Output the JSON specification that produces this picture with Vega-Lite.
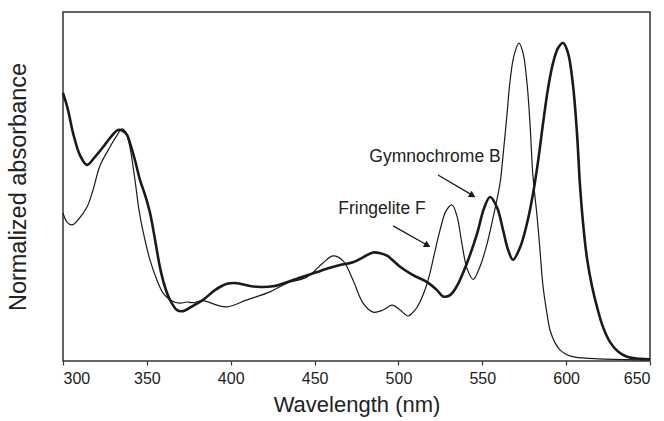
{
  "$schema": "https://vega.github.io/schema/vega-lite/v6.json",
  "autosize": "none",
  "width": 587,
  "height": 349,
  "padding": {"left": 63, "top": 12, "right": 14, "bottom": 60},
  "background": "white",
  "config": {
    "view": {"stroke": "#333333", "strokeWidth": 1.5},
    "font": "Liberation Sans",
    "axis": {"grid": false, "domain": false}
  },
  "datasets": {
    "spectra": [
      {"wl": 300.0, "abs": 0.768, "series": "Gymnochrome B"},
      {"wl": 303.0, "abs": 0.719, "series": "Gymnochrome B"},
      {"wl": 306.0, "abs": 0.653, "series": "Gymnochrome B"},
      {"wl": 310.1, "abs": 0.590, "series": "Gymnochrome B"},
      {"wl": 314.3, "abs": 0.562, "series": "Gymnochrome B"},
      {"wl": 319.1, "abs": 0.585, "series": "Gymnochrome B"},
      {"wl": 323.9, "abs": 0.613, "series": "Gymnochrome B"},
      {"wl": 328.0, "abs": 0.639, "series": "Gymnochrome B"},
      {"wl": 332.8, "abs": 0.662, "series": "Gymnochrome B"},
      {"wl": 335.8, "abs": 0.659, "series": "Gymnochrome B"},
      {"wl": 338.2, "abs": 0.648, "series": "Gymnochrome B"},
      {"wl": 339.9, "abs": 0.625, "series": "Gymnochrome B"},
      {"wl": 342.9, "abs": 0.576, "series": "Gymnochrome B"},
      {"wl": 345.9, "abs": 0.519, "series": "Gymnochrome B"},
      {"wl": 348.9, "abs": 0.476, "series": "Gymnochrome B"},
      {"wl": 351.9, "abs": 0.424, "series": "Gymnochrome B"},
      {"wl": 354.9, "abs": 0.347, "series": "Gymnochrome B"},
      {"wl": 357.8, "abs": 0.269, "series": "Gymnochrome B"},
      {"wl": 360.8, "abs": 0.212, "series": "Gymnochrome B"},
      {"wl": 363.8, "abs": 0.175, "series": "Gymnochrome B"},
      {"wl": 368.0, "abs": 0.146, "series": "Gymnochrome B"},
      {"wl": 371.6, "abs": 0.143, "series": "Gymnochrome B"},
      {"wl": 377.5, "abs": 0.158, "series": "Gymnochrome B"},
      {"wl": 383.5, "abs": 0.175, "series": "Gymnochrome B"},
      {"wl": 390.6, "abs": 0.203, "series": "Gymnochrome B"},
      {"wl": 397.8, "abs": 0.221, "series": "Gymnochrome B"},
      {"wl": 403.8, "abs": 0.223, "series": "Gymnochrome B"},
      {"wl": 411.5, "abs": 0.215, "series": "Gymnochrome B"},
      {"wl": 417.5, "abs": 0.212, "series": "Gymnochrome B"},
      {"wl": 425.2, "abs": 0.214, "series": "Gymnochrome B"},
      {"wl": 437.2, "abs": 0.232, "series": "Gymnochrome B"},
      {"wl": 451.5, "abs": 0.255, "series": "Gymnochrome B"},
      {"wl": 459.2, "abs": 0.267, "series": "Gymnochrome B"},
      {"wl": 465.2, "abs": 0.275, "series": "Gymnochrome B"},
      {"wl": 472.9, "abs": 0.283, "series": "Gymnochrome B"},
      {"wl": 478.9, "abs": 0.297, "series": "Gymnochrome B"},
      {"wl": 484.9, "abs": 0.311, "series": "Gymnochrome B"},
      {"wl": 489.1, "abs": 0.309, "series": "Gymnochrome B"},
      {"wl": 493.2, "abs": 0.302, "series": "Gymnochrome B"},
      {"wl": 501.0, "abs": 0.270, "series": "Gymnochrome B"},
      {"wl": 508.7, "abs": 0.246, "series": "Gymnochrome B"},
      {"wl": 517.1, "abs": 0.226, "series": "Gymnochrome B"},
      {"wl": 523.0, "abs": 0.203, "series": "Gymnochrome B"},
      {"wl": 526.6, "abs": 0.185, "series": "Gymnochrome B"},
      {"wl": 530.8, "abs": 0.189, "series": "Gymnochrome B"},
      {"wl": 534.9, "abs": 0.215, "series": "Gymnochrome B"},
      {"wl": 540.9, "abs": 0.281, "series": "Gymnochrome B"},
      {"wl": 546.9, "abs": 0.365, "series": "Gymnochrome B"},
      {"wl": 551.0, "abs": 0.437, "series": "Gymnochrome B"},
      {"wl": 554.6, "abs": 0.470, "series": "Gymnochrome B"},
      {"wl": 558.8, "abs": 0.440, "series": "Gymnochrome B"},
      {"wl": 562.4, "abs": 0.375, "series": "Gymnochrome B"},
      {"wl": 565.3, "abs": 0.320, "series": "Gymnochrome B"},
      {"wl": 568.3, "abs": 0.290, "series": "Gymnochrome B"},
      {"wl": 572.5, "abs": 0.325, "series": "Gymnochrome B"},
      {"wl": 576.7, "abs": 0.395, "series": "Gymnochrome B"},
      {"wl": 580.2, "abs": 0.478, "series": "Gymnochrome B"},
      {"wl": 583.2, "abs": 0.570, "series": "Gymnochrome B"},
      {"wl": 586.2, "abs": 0.680, "series": "Gymnochrome B"},
      {"wl": 589.2, "abs": 0.781, "series": "Gymnochrome B"},
      {"wl": 592.2, "abs": 0.854, "series": "Gymnochrome B"},
      {"wl": 595.2, "abs": 0.897, "series": "Gymnochrome B"},
      {"wl": 598.2, "abs": 0.911, "series": "Gymnochrome B"},
      {"wl": 601.1, "abs": 0.883, "series": "Gymnochrome B"},
      {"wl": 604.1, "abs": 0.790, "series": "Gymnochrome B"},
      {"wl": 606.5, "abs": 0.650, "series": "Gymnochrome B"},
      {"wl": 608.3, "abs": 0.500, "series": "Gymnochrome B"},
      {"wl": 610.7, "abs": 0.365, "series": "Gymnochrome B"},
      {"wl": 612.5, "abs": 0.292, "series": "Gymnochrome B"},
      {"wl": 615.4, "abs": 0.215, "series": "Gymnochrome B"},
      {"wl": 618.4, "abs": 0.155, "series": "Gymnochrome B"},
      {"wl": 622.0, "abs": 0.097, "series": "Gymnochrome B"},
      {"wl": 626.2, "abs": 0.054, "series": "Gymnochrome B"},
      {"wl": 630.9, "abs": 0.027, "series": "Gymnochrome B"},
      {"wl": 636.3, "abs": 0.012, "series": "Gymnochrome B"},
      {"wl": 644.1, "abs": 0.006, "series": "Gymnochrome B"},
      {"wl": 650.0, "abs": 0.005, "series": "Gymnochrome B"},

      {"wl": 300.0, "abs": 0.424, "series": "Fringelite F"},
      {"wl": 302.4, "abs": 0.398, "series": "Fringelite F"},
      {"wl": 305.4, "abs": 0.390, "series": "Fringelite F"},
      {"wl": 308.9, "abs": 0.404, "series": "Fringelite F"},
      {"wl": 314.3, "abs": 0.441, "series": "Fringelite F"},
      {"wl": 317.9, "abs": 0.490, "series": "Fringelite F"},
      {"wl": 322.1, "abs": 0.560, "series": "Fringelite F"},
      {"wl": 328.0, "abs": 0.613, "series": "Fringelite F"},
      {"wl": 331.6, "abs": 0.642, "series": "Fringelite F"},
      {"wl": 335.2, "abs": 0.665, "series": "Fringelite F"},
      {"wl": 337.6, "abs": 0.653, "series": "Fringelite F"},
      {"wl": 339.9, "abs": 0.613, "series": "Fringelite F"},
      {"wl": 342.9, "abs": 0.519, "series": "Fringelite F"},
      {"wl": 345.3, "abs": 0.433, "series": "Fringelite F"},
      {"wl": 347.7, "abs": 0.372, "series": "Fringelite F"},
      {"wl": 351.9, "abs": 0.289, "series": "Fringelite F"},
      {"wl": 356.0, "abs": 0.232, "series": "Fringelite F"},
      {"wl": 359.6, "abs": 0.195, "series": "Fringelite F"},
      {"wl": 363.8, "abs": 0.175, "series": "Fringelite F"},
      {"wl": 369.8, "abs": 0.166, "series": "Fringelite F"},
      {"wl": 373.9, "abs": 0.169, "series": "Fringelite F"},
      {"wl": 377.5, "abs": 0.167, "series": "Fringelite F"},
      {"wl": 383.5, "abs": 0.173, "series": "Fringelite F"},
      {"wl": 391.8, "abs": 0.160, "series": "Fringelite F"},
      {"wl": 397.8, "abs": 0.155, "series": "Fringelite F"},
      {"wl": 409.7, "abs": 0.175, "series": "Fringelite F"},
      {"wl": 423.4, "abs": 0.198, "series": "Fringelite F"},
      {"wl": 433.6, "abs": 0.223, "series": "Fringelite F"},
      {"wl": 445.5, "abs": 0.241, "series": "Fringelite F"},
      {"wl": 455.0, "abs": 0.281, "series": "Fringelite F"},
      {"wl": 461.0, "abs": 0.301, "series": "Fringelite F"},
      {"wl": 467.0, "abs": 0.287, "series": "Fringelite F"},
      {"wl": 472.9, "abs": 0.232, "series": "Fringelite F"},
      {"wl": 478.9, "abs": 0.166, "series": "Fringelite F"},
      {"wl": 484.9, "abs": 0.140, "series": "Fringelite F"},
      {"wl": 490.8, "abs": 0.146, "series": "Fringelite F"},
      {"wl": 496.2, "abs": 0.160, "series": "Fringelite F"},
      {"wl": 501.0, "abs": 0.146, "series": "Fringelite F"},
      {"wl": 505.7, "abs": 0.129, "series": "Fringelite F"},
      {"wl": 509.9, "abs": 0.146, "series": "Fringelite F"},
      {"wl": 512.9, "abs": 0.170, "series": "Fringelite F"},
      {"wl": 515.9, "abs": 0.205, "series": "Fringelite F"},
      {"wl": 518.8, "abs": 0.252, "series": "Fringelite F"},
      {"wl": 521.8, "abs": 0.315, "series": "Fringelite F"},
      {"wl": 524.8, "abs": 0.375, "series": "Fringelite F"},
      {"wl": 528.4, "abs": 0.430, "series": "Fringelite F"},
      {"wl": 532.0, "abs": 0.447, "series": "Fringelite F"},
      {"wl": 534.9, "abs": 0.415, "series": "Fringelite F"},
      {"wl": 537.9, "abs": 0.335, "series": "Fringelite F"},
      {"wl": 540.9, "abs": 0.265, "series": "Fringelite F"},
      {"wl": 544.5, "abs": 0.234, "series": "Fringelite F"},
      {"wl": 548.6, "abs": 0.270, "series": "Fringelite F"},
      {"wl": 552.8, "abs": 0.335, "series": "Fringelite F"},
      {"wl": 556.4, "abs": 0.410, "series": "Fringelite F"},
      {"wl": 560.6, "abs": 0.510, "series": "Fringelite F"},
      {"wl": 562.4, "abs": 0.590, "series": "Fringelite F"},
      {"wl": 564.7, "abs": 0.705, "series": "Fringelite F"},
      {"wl": 566.5, "abs": 0.800, "series": "Fringelite F"},
      {"wl": 568.9, "abs": 0.875, "series": "Fringelite F"},
      {"wl": 571.9, "abs": 0.911, "series": "Fringelite F"},
      {"wl": 574.3, "abs": 0.883, "series": "Fringelite F"},
      {"wl": 576.7, "abs": 0.795, "series": "Fringelite F"},
      {"wl": 578.5, "abs": 0.676, "series": "Fringelite F"},
      {"wl": 580.2, "abs": 0.530, "series": "Fringelite F"},
      {"wl": 582.6, "abs": 0.418, "series": "Fringelite F"},
      {"wl": 584.4, "abs": 0.318, "series": "Fringelite F"},
      {"wl": 586.2, "abs": 0.215, "series": "Fringelite F"},
      {"wl": 588.6, "abs": 0.135, "series": "Fringelite F"},
      {"wl": 590.4, "abs": 0.088, "series": "Fringelite F"},
      {"wl": 593.4, "abs": 0.052, "series": "Fringelite F"},
      {"wl": 596.3, "abs": 0.032, "series": "Fringelite F"},
      {"wl": 600.5, "abs": 0.018, "series": "Fringelite F"},
      {"wl": 605.3, "abs": 0.011, "series": "Fringelite F"},
      {"wl": 620.2, "abs": 0.006, "series": "Fringelite F"},
      {"wl": 650.0, "abs": 0.003, "series": "Fringelite F"}
    ],
    "labels": [
      {"wl": 521.8, "abs": 0.585, "text": "Gymnochrome B"},
      {"wl": 490.2, "abs": 0.436, "text": "Fringelite F"}
    ],
    "arrows": [
      {"wl": 523.6, "abs": 0.533, "wl2": 544.5, "abs2": 0.474, "tipwl": 544.2, "tipabs": 0.474, "angle": 31},
      {"wl": 496.8, "abs": 0.387, "wl2": 517.6, "abs2": 0.331, "tipwl": 517.3, "tipabs": 0.331, "angle": 30}
    ]
  },
  "layer": [
    {
      "data": {"name": "spectra"},
      "mark": {"type": "line", "interpolate": "catmull-rom", "color": "#1a1a1a"},
      "encoding": {
        "x": {
          "field": "wl", "type": "quantitative",
          "scale": {"domain": [300, 650], "nice": false},
          "axis": {
            "title": "Wavelength (nm)", "values": [300, 350, 400, 450, 500, 550, 600, 650],
            "tickSize": 4, "tickColor": "#333333", "tickWidth": 1.2,
            "labelFontSize": 16, "labelColor": "#222222", "labelPadding": 5,
            "titleFontSize": 22, "titleFontWeight": "normal", "titleColor": "#222222", "titlePadding": 8
          }
        },
        "y": {
          "field": "abs", "type": "quantitative",
          "scale": {"domain": [0, 1], "nice": false},
          "axis": {
            "title": "Normalized absorbance", "ticks": false, "labels": false,
            "titleFontSize": 23.5, "titleFontWeight": "normal", "titleColor": "#222222", "titlePadding": 33
          }
        },
        "detail": {"field": "series"},
        "strokeWidth": {
          "field": "series", "type": "nominal",
          "scale": {"domain": ["Gymnochrome B", "Fringelite F"], "range": [2.6, 1.2]},
          "legend": null
        }
      }
    },
    {
      "data": {"name": "arrows"},
      "mark": {"type": "rule", "color": "#1a1a1a", "strokeWidth": 1.3},
      "encoding": {
        "x": {"field": "wl", "type": "quantitative"},
        "y": {"field": "abs", "type": "quantitative"},
        "x2": {"field": "wl2"},
        "y2": {"field": "abs2"}
      }
    },
    {
      "data": {"name": "arrows"},
      "mark": {"type": "point", "shape": "triangle-right", "filled": true, "color": "#1a1a1a", "size": 55, "opacity": 1},
      "encoding": {
        "x": {"field": "tipwl", "type": "quantitative"},
        "y": {"field": "tipabs", "type": "quantitative"},
        "angle": {"field": "angle", "type": "quantitative", "scale": null}
      }
    },
    {
      "data": {"name": "labels"},
      "mark": {"type": "text", "fontSize": 17.5, "color": "#222222", "align": "center", "baseline": "middle"},
      "encoding": {
        "x": {"field": "wl", "type": "quantitative"},
        "y": {"field": "abs", "type": "quantitative"},
        "text": {"field": "text"}
      }
    }
  ]
}
